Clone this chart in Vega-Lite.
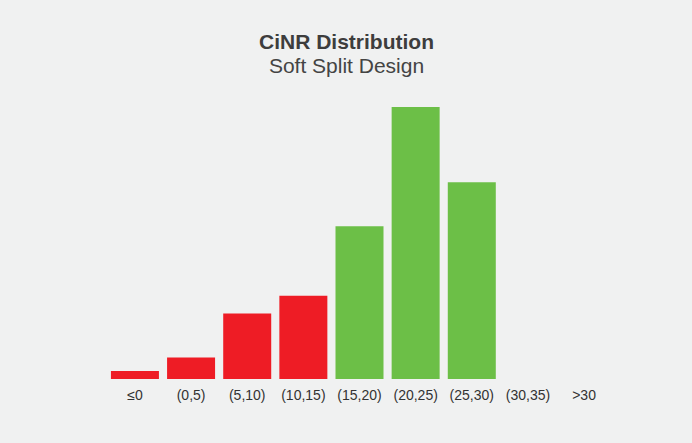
{
  "$schema": "https://vega.github.io/schema/vega-lite/v6.json",
  "width": 505,
  "height": 272,
  "autosize": {"type": "none"},
  "padding": {"left": 107, "top": 107, "right": 80, "bottom": 64},
  "background": "#f0f1f1",
  "title": {
    "text": "CiNR Distribution",
    "subtitle": "Soft Split Design",
    "anchor": "middle",
    "dx": -13,
    "offset": 30,
    "font": "Liberation Sans",
    "fontSize": 21,
    "fontWeight": "bold",
    "color": "#3d3d3d",
    "subtitleFont": "Liberation Sans",
    "subtitleFontSize": 21,
    "subtitleColor": "#444444",
    "subtitlePadding": 3
  },
  "data": {
    "values": [
      {"bin": "≤0", "pct": 1.0, "group": "low"},
      {"bin": "(0,5)", "pct": 2.7, "group": "low"},
      {"bin": "(5,10)", "pct": 8.2, "group": "low"},
      {"bin": "(10,15)", "pct": 10.4, "group": "low"},
      {"bin": "(15,20)", "pct": 19.1, "group": "high"},
      {"bin": "(20,25)", "pct": 34.0, "group": "high"},
      {"bin": "(25,30)", "pct": 24.6, "group": "high"},
      {"bin": "(30,35)", "pct": 0, "group": "high"},
      {"bin": ">30", "pct": 0, "group": "high"}
    ]
  },
  "mark": {"type": "bar"},
  "encoding": {
    "x": {
      "field": "bin",
      "type": "nominal",
      "sort": null,
      "scale": {"paddingInner": 0.145, "paddingOuter": 0.07},
      "axis": {
        "title": null,
        "labelAngle": 0,
        "ticks": false,
        "domain": false,
        "labelPadding": 9,
        "labelFont": "Liberation Sans",
        "labelFontSize": 14,
        "labelColor": "#333333"
      }
    },
    "y": {
      "field": "pct",
      "type": "quantitative",
      "scale": {"domain": [0, 34], "nice": false},
      "axis": null
    },
    "color": {
      "field": "group",
      "type": "nominal",
      "scale": {"domain": ["low", "high"], "range": ["#ee1c25", "#6cbf47"]},
      "legend": null
    }
  },
  "config": {"view": {"stroke": null}}
}
